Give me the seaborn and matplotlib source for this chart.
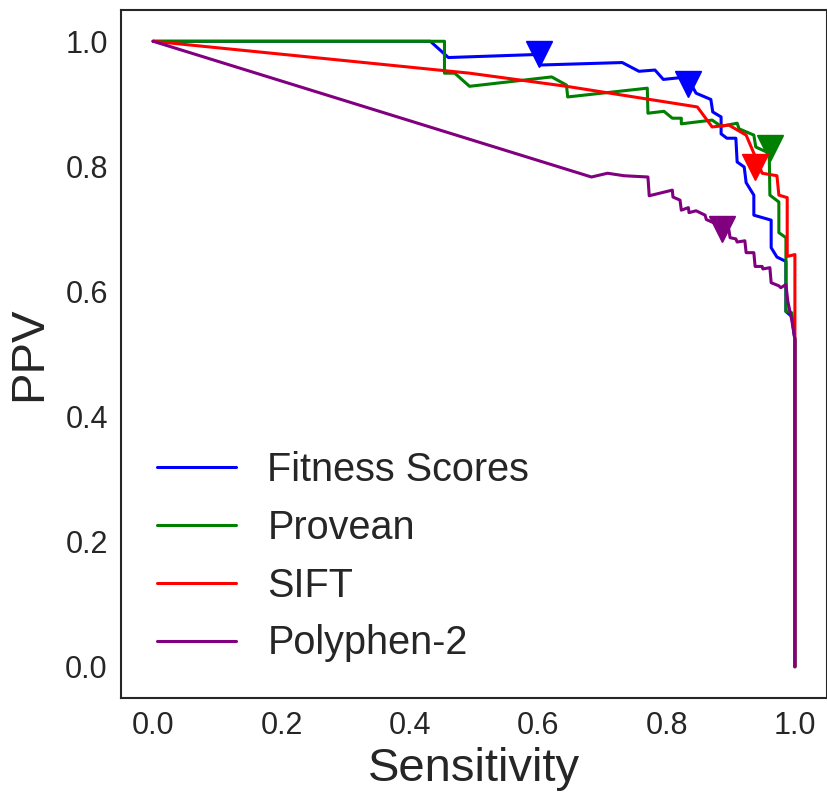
import matplotlib
matplotlib.use("Agg")
import matplotlib.pyplot as plt
import pandas as pd
import seaborn as sns

# Precision-recall style curves (Sensitivity vs PPV)
FITNESS_SENS = [0.0, 0.432, 0.460, 0.602, 0.602, 0.731, 0.757, 0.782, 0.795, 0.832,
                0.846, 0.869, 0.872, 0.885, 0.885, 0.894, 0.908, 0.910, 0.921, 0.924,
                0.936, 0.936, 0.963, 0.963, 0.972, 0.986, 0.986, 0.995, 1.0, 1.0]
FITNESS_PPV = [1.0, 1.0, 0.974, 0.979, 0.962, 0.966, 0.952, 0.954, 0.939, 0.943,
               0.917, 0.907, 0.887, 0.879, 0.852, 0.845, 0.845, 0.807, 0.799, 0.774,
               0.754, 0.722, 0.714, 0.670, 0.655, 0.648, 0.568, 0.560, 0.523, 0.0]

PROVEAN_SENS = [0.0, 0.454, 0.454, 0.470, 0.493, 0.621, 0.644, 0.646, 0.770, 0.771,
                0.796, 0.809, 0.823, 0.823, 0.871, 0.885, 0.910, 0.913, 0.936, 0.939,
                0.960, 0.961, 0.975, 0.975, 0.986, 0.986, 0.995, 1.0, 1.0]
PROVEAN_PPV = [1.0, 1.0, 0.949, 0.949, 0.928, 0.943, 0.930, 0.911, 0.925, 0.885,
               0.888, 0.877, 0.877, 0.868, 0.874, 0.864, 0.869, 0.860, 0.850, 0.831,
               0.821, 0.754, 0.743, 0.694, 0.686, 0.568, 0.566, 0.523, 0.0]

SIFT_SENS = [0.0, 0.493, 0.644, 0.848, 0.871, 0.897, 0.924, 0.936, 0.949, 0.972,
             0.975, 0.988, 0.988, 1.0, 1.0, 1.0]
SIFT_PPV = [1.0, 0.949, 0.928, 0.895, 0.863, 0.866, 0.850, 0.821, 0.789, 0.785,
            0.754, 0.750, 0.656, 0.659, 0.523, 0.0]

POLYPHEN_SENS = [0.0, 0.683, 0.708, 0.734, 0.771, 0.773, 0.809, 0.810, 0.821, 0.823,
                 0.834, 0.835, 0.846, 0.860, 0.862, 0.897, 0.899, 0.908, 0.910, 0.922,
                 0.924, 0.936, 0.938, 0.949, 0.950, 0.961, 0.963, 0.975, 0.978, 0.986,
                 0.989, 0.995, 1.0, 1.0]
POLYPHEN_PPV = [1.0, 0.783, 0.789, 0.785, 0.783, 0.753, 0.762, 0.751, 0.746, 0.730,
                0.734, 0.726, 0.729, 0.722, 0.715, 0.699, 0.686, 0.684, 0.679, 0.681,
                0.662, 0.662, 0.640, 0.640, 0.636, 0.638, 0.614, 0.609, 0.606, 0.611,
                0.584, 0.555, 0.523, 0.0]

# Threshold markers (triangles)
MARK_NAMES = ["Fitness Scores", "Fitness Scores", "Provean", "SIFT", "Polyphen-2"]
MARK_SENS = [0.602, 0.834, 0.961, 0.938, 0.886]
MARK_PPV = [0.979, 0.931, 0.829, 0.799, 0.700]

METHODS = ["Fitness Scores", "Provean", "SIFT", "Polyphen-2"]
COLORS = {"Fitness Scores": "blue", "Provean": "green", "SIFT": "red", "Polyphen-2": "purple"}

curves = {
    "Fitness Scores": (FITNESS_SENS, FITNESS_PPV),
    "Provean": (PROVEAN_SENS, PROVEAN_PPV),
    "SIFT": (SIFT_SENS, SIFT_PPV),
    "Polyphen-2": (POLYPHEN_SENS, POLYPHEN_PPV),
}

sns.set_theme(style="white")
plt.rcParams["font.family"] = ["Liberation Sans", "DejaVu Sans"]

fig = plt.figure(figsize=(8.28, 7.94), dpi=100)
ax = fig.add_axes([121 / 828, 1 - 698 / 794, 706 / 828, 688 / 794])

for name in METHODS:
    sens, ppv = curves[name]
    sns.lineplot(x=sens, y=ppv, sort=False, estimator=None, color=COLORS[name],
                 linewidth=2.2, label=name, ax=ax)

marks = pd.DataFrame({"method": MARK_NAMES, "sens": MARK_SENS, "ppv": MARK_PPV})
for name, grp in marks.groupby("method", sort=False):
    ax.plot(grp["sens"], grp["ppv"], linestyle="none", marker="v", markersize=19,
            color=COLORS[name], zorder=5)

ax.set_xlim(-0.05, 1.05)
ax.set_ylim(-0.05, 1.05)
ax.set_xticks([0.0, 0.2, 0.4, 0.6, 0.8, 1.0])
ax.set_yticks([0.0, 0.2, 0.4, 0.6, 0.8, 1.0])
ax.tick_params(labelsize=22, pad=3.5, colors="#262626")
ax.set_xlabel("Sensitivity", fontsize=34, labelpad=4)
ax.set_ylabel("PPV", fontsize=34, labelpad=10)
for spine in ax.spines.values():
    spine.set_linewidth(1.5)
    spine.set_color("#262626")

ax.legend(loc="lower left", frameon=False, fontsize=28.5, labelspacing=0.5)

fig.savefig("out.png", dpi=100)
plt.close(fig)
